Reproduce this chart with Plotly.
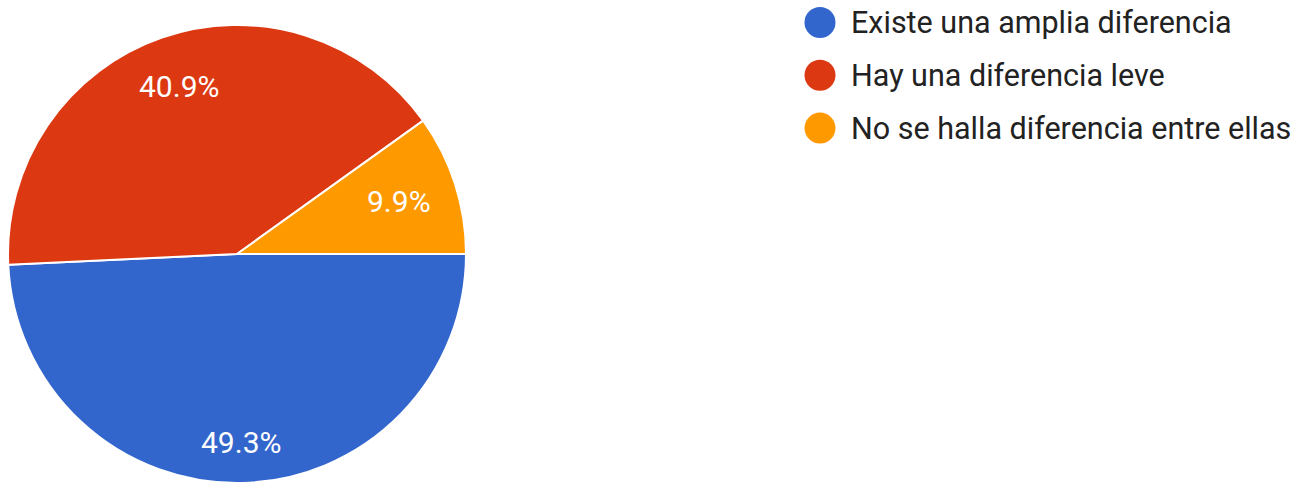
import math
import plotly.graph_objects as go

categories = ["Existe una amplia diferencia", "Hay una diferencia leve", "No se halla diferencia entre ellas"]
percentages = [49.3, 40.9, 9.9]
colors = ["#3366cc", "#dc3912", "#ff9900"]

W, H = 1311, 497

# pie placement (pixels)
PIE_L, PIE_R, PIE_T, PIE_B = 8, 466, 25, 483
CX, CY = (PIE_L + PIE_R) / 2, (PIE_T + PIE_B) / 2
RAD = (PIE_R - PIE_L) / 2
LABEL_FS = 30

fig = go.Figure()
fig.add_trace(go.Pie(
    labels=categories,
    values=percentages,
    sort=False,
    direction="clockwise",
    rotation=90,
    marker=dict(colors=colors, line=dict(color="white", width=2)),
    textinfo="none",
    hoverinfo="label+percent",
    showlegend=False,
    domain=dict(x=[PIE_L / W, PIE_R / W], y=[1 - PIE_B / H, 1 - PIE_T / H]),
))

# slice labels: along each slice bisector, pushed out until the text box nears the rim
char_w = {".": 0.27, "%": 0.73}
total = sum(percentages)
start = 0.0  # degrees clockwise from 3 o'clock
for val in percentages:
    sweep = 360 * val / total
    mid = math.radians(start + sweep / 2)
    start += sweep
    txt = f"{val}%"
    half_w = sum(char_w.get(c, 0.56) for c in txt) * LABEL_FS / 2
    half_h = 0.36 * LABEL_FS
    c, s = math.cos(mid), math.sin(mid)
    limit = 0.89 * RAD
    r = 0.0
    while True:
        px, py = CX + r * c, CY + r * s
        far = max(math.hypot(px + dx - CX, py + dy - CY)
                  for dx in (-half_w, half_w) for dy in (-half_h, half_h))
        if far >= limit:
            break
        r += 0.5
    fig.add_annotation(text=txt, xref="paper", yref="paper",
                       x=px / W, y=1 - py / H, xanchor="center", yanchor="middle",
                       showarrow=False,
                       font=dict(family="Roboto", size=LABEL_FS, color="white"))

# custom legend with large circular markers
legend_x_circle = 820
legend_x_text = 849
legend_y0 = 22.5
legend_dy = 52.8
rr = 15.5
for i, (cat, col) in enumerate(zip(categories, colors)):
    cy = legend_y0 + i * legend_dy
    fig.add_shape(type="circle", xref="paper", yref="paper",
                  x0=(legend_x_circle - rr) / W, x1=(legend_x_circle + rr) / W,
                  y0=1 - (cy + rr) / H, y1=1 - (cy - rr) / H,
                  fillcolor=col, line=dict(width=0))
    fig.add_annotation(text=cat, xref="paper", yref="paper",
                       x=legend_x_text / W, y=1 - cy / H,
                       xanchor="left", yanchor="middle", showarrow=False,
                       font=dict(family="Roboto", size=30.5, color="#222222"))

fig.update_layout(
    width=W, height=H,
    margin=dict(l=0, r=0, t=0, b=0),
    paper_bgcolor="white",
    plot_bgcolor="white",
)

fig.write_html("out.html")
